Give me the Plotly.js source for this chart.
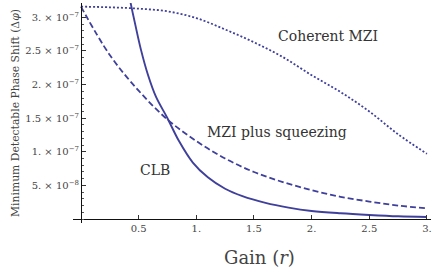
<!DOCTYPE html>
<html><head><meta charset="utf-8">
<script src="https://cdn.plot.ly/plotly-3.0.1.min.js"></script>
<style>html,body{margin:0;padding:0;background:#fff}</style>
</head><body>
<div id="chart" style="width:439px;height:274px"></div>
<script>
// Gain r and minimum detectable phase shift values (units of 1e-7)
const coherentR = [0, 0.25, 0.5, 0.75, 1.0, 1.25, 1.5, 1.75, 2.0, 2.25, 2.5, 2.75, 3.0];
const coherentV = [3.16, 3.15, 3.13, 3.09, 2.99, 2.82, 2.63, 2.41, 2.14, 1.89, 1.60, 1.26, 0.97];
const squeezR = [0, 0.25, 0.5, 0.75, 1.0, 1.25, 1.5, 1.75, 2.0, 2.25, 2.5, 2.75, 3.0];
const squeezV = [3.16, 2.44, 1.91, 1.48, 1.16, 0.90, 0.70, 0.55, 0.43, 0.33, 0.26, 0.20, 0.16];
const clbR = [0.38, 0.425, 0.47, 0.52, 0.58, 0.65, 0.75, 0.85, 0.97, 1.1, 1.25, 1.4, 1.6, 1.8, 2.0, 2.25, 2.5, 2.75, 3.0];
const clbV = [3.65, 3.26, 2.90, 2.52, 2.15, 1.82, 1.50, 1.16, 0.84, 0.62, 0.45, 0.34, 0.24, 0.17, 0.12, 0.085, 0.06, 0.04, 0.03];
const xTickVals = [0.5, 1, 1.5, 2, 2.5, 3];
const xTickText = ['0.5', '1.', '1.5', '2.', '2.5', '3.'];
const yTickVals = [5e-8, 1e-7, 1.5e-7, 2e-7, 2.5e-7, 3e-7];
const yTickText = ['5. × 10<sup>−8</sup>', '1. × 10<sup>−7</sup>', '1.5 × 10<sup>−7</sup>', '2. × 10<sup>−7</sup>', '2.5 × 10<sup>−7</sup>', '3. × 10<sup>−7</sup>'];
const scale = 1e-7;

const col = '#3f3f9c';
const sc = v => v.map(x => x * scale);
const traces = [
  {x: coherentR, y: sc(coherentV), mode: 'lines', line: {color: col, width: 1.8, dash: '2px,2px', shape: 'spline'}, hoverinfo: 'skip'},
  {x: squeezR, y: sc(squeezV), mode: 'lines', line: {color: col, width: 1.8, dash: '6px,3px', shape: 'spline'}, hoverinfo: 'skip'},
  {x: clbR, y: sc(clbV), mode: 'lines', line: {color: col, width: 1.9, shape: 'spline'}, hoverinfo: 'skip'}
];
const serif = 'DejaVu Serif';
const layout = {
  width: 439, height: 274,
  margin: {l: 73, r: 8, t: 3, b: 51},
  paper_bgcolor: '#fff', plot_bgcolor: '#fff',
  showlegend: false,
  font: {family: serif, color: '#444', size: 10},
  xaxis: {
    range: [-0.069, 3.035], anchor: 'free', position: 0.018,
    showgrid: false, zeroline: false, showline: true, linecolor: '#111', linewidth: 1,
    ticks: 'inside', ticklen: 4, tickcolor: '#333',
    tickvals: xTickVals, ticktext: xTickText,
    tickfont: {family: serif, size: 10, color: '#444'}
  },
  yaxis: {
    range: [-0.0595e-7, 3.214e-7], anchor: 'free', position: 0.0223,
    showgrid: false, zeroline: false, showline: true, linecolor: '#111', linewidth: 1,
    ticks: 'inside', ticklen: 4, tickcolor: '#333',
    tickvals: yTickVals, ticktext: yTickText,
    tickfont: {family: serif, size: 10, color: '#444'},
    minor: {dtick: 1e-8, tick0: 0, ticks: 'inside', ticklen: 2, tickcolor: '#555', showgrid: false}
  },
  annotations: [
    {x: 2.14, y: 2.72e-7, xref: 'x', yref: 'y', text: 'Coherent MZI', showarrow: false, font: {family: serif, size: 14, color: '#333'}},
    {x: 1.70, y: 1.29e-7, xref: 'x', yref: 'y', text: 'MZI plus squeezing', showarrow: false, font: {family: serif, size: 14, color: '#333'}},
    {x: 0.64, y: 0.73e-7, xref: 'x', yref: 'y', text: 'CLB', showarrow: false, font: {family: serif, size: 14, color: '#333'}},
    {x: -0.162, y: 0.5, xref: 'paper', yref: 'paper', text: 'Minimum Detectable Phase Shift (Δ<i>φ</i>)', textangle: -90, showarrow: false, xanchor: 'center', yanchor: 'middle', font: {family: serif, size: 10.8, color: '#444'}},
    {x: 0.522, y: -0.159, xref: 'paper', yref: 'paper', text: 'Gain (<i>r</i>)', showarrow: false, xanchor: 'center', yanchor: 'middle', font: {family: serif, size: 18, color: '#444'}}
  ]
};
Plotly.newPlot('chart', traces, layout, {staticPlot: true, displayModeBar: false});
</script>
</body></html>
